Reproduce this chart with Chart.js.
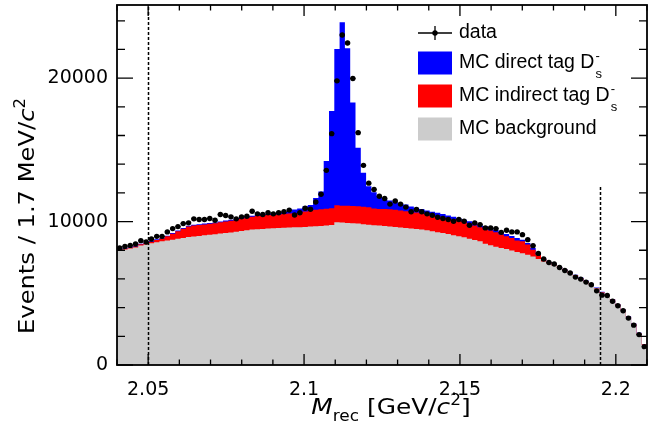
<!DOCTYPE html>
<html>
<head>
<meta charset="utf-8">
<script src="https://cdn.jsdelivr.net/npm/chart.js@4.4.1/dist/chart.umd.min.js"></script>
<style>
html, body { margin: 0; padding: 0; background: #fff; }
#wrap { width: 660px; height: 429px; }
</style>
</head>
<body>
<div id="wrap"><canvas id="c"></canvas></div>
<script>
'use strict';
// M_rec spectrum: data vs stacked MC (direct / indirect tag Ds, background)

// ---------- dane ----------
const X_MIN = 2.04, X_MAX = 2.21, BIN = 0.0017;   // 100 bins of 1.7 MeV
const Y_MAX = 25100;
const dataCounts = [
  8160, 8270, 8340, 8440, 8670, 8580, 8790, 8970, 8970, 9280,
  9510, 9650, 9860, 9910, 10190, 10140, 10140, 10210, 10090, 10490,
  10420, 10330, 10190, 10330, 10370, 10720, 10540, 10490, 10610, 10540,
  10610, 10680, 10800, 10460, 10610, 10930, 10860, 11360, 11910, 13570,
  16130, 19810, 23010, 22450, 19980, 16200, 13920, 12680, 12240, 11770,
  11610, 11220, 11430, 11220, 11010, 10680, 10840, 10680, 10540, 10440,
  10300, 10210, 10140, 10020, 10140, 10020, 9740, 9910, 9790, 9560,
  9560, 9510, 9250, 9390, 9280, 9280, 9090, 8740, 8320, 7780,
  7390, 7150, 7040, 6800, 6590, 6410, 6130, 5990, 5780, 5590,
  5170, 4870, 4850, 4450, 4130, 3780, 3270, 2780, 2120, 1280
];
const mcBackground = [
  8020, 8060, 8120, 8200, 8330, 8400, 8480, 8560, 8620, 8680,
  8740, 8800, 8860, 8920, 8960, 9000, 9040, 9080, 9110, 9160,
  9200, 9240, 9290, 9340, 9400, 9440, 9460, 9480, 9510, 9540,
  9560, 9570, 9590, 9600, 9610, 9620, 9650, 9670, 9700, 9720,
  9760, 9950, 9930, 9900, 9880, 9860, 9820, 9780, 9740, 9720,
  9700, 9660, 9620, 9580, 9560, 9520, 9480, 9440, 9390, 9330,
  9260, 9200, 9140, 9040, 8970, 8900, 8810, 8720, 8620, 8450,
  8350, 8250, 8150, 8080, 7990, 7880, 7800, 7690, 7560, 7390,
  7220, 7080, 6930, 6760, 6600, 6420, 6220, 6020, 5820, 5590,
  5330, 5040, 4820, 4520, 4180, 3820, 3340, 2840, 2200, 1420
];
const mcIndirect = [
  40, 40, 50, 60, 90, 100, 120, 160, 200, 300,
  410, 520, 640, 730, 760, 760, 760, 760, 770, 790,
  800, 810, 830, 860, 870, 890, 920, 940, 940, 940,
  940, 960, 970, 1000, 1030, 1080, 1130, 1150, 1160, 1180,
  1170, 1180, 1180, 1200, 1200, 1200, 1220, 1220, 1180, 1160,
  1170, 1200, 1200, 1190, 1160, 1160, 1160, 1140, 1110, 1100,
  1110, 1100, 1090, 1110, 1110, 1080, 1040, 1000, 980, 1020,
  1030, 1000, 950, 890, 860, 800, 820, 710, 480, 300,
  170, 70, 60, 50, 50, 50, 50, 50, 40, 40,
  40, 40, 40, 40, 30, 30, 30, 30, 20, 20
];
const mcDirect = [
  40, 40, 40, 40, 40, 40, 40, 40, 40, 40,
  60, 60, 60, 60, 60, 60, 60, 60, 60, 60,
  80, 80, 80, 80, 80, 80, 80, 80, 100, 100,
  100, 130, 160, 240, 270, 370, 370, 830, 1240, 3320,
  6780, 10900, 12780, 10980, 7220, 4090, 2370, 1470, 1130, 890,
  670, 610, 530, 490, 470, 370, 320, 290, 270, 250,
  240, 220, 200, 180, 150, 150, 170, 160, 150, 200,
  160, 170, 160, 160, 150, 170, 120, 100, 110, 70,
  40, 25, 25, 25, 25, 25, 25, 25, 25, 25,
  25, 25, 25, 25, 25, 25, 25, 25, 25, 25
];
const xMajor = [2.05, 2.1, 2.15, 2.2];
const xLabels = ['2.05', '2.1', '2.15', '2.2'];
const yMajor = [0, 10000, 20000];
const yLabels = ['0', '10000', '20000'];
const cutLines = [{ x: 2.05, top: Y_MAX }, { x: 2.195, top: 12500 }];

const FONT = '"DejaVu Sans", "Liberation Sans", Arial, sans-serif';
const LFONT = '"Liberation Sans", Arial, Helvetica, sans-serif';
const BLUE = '#0000ff', RED = '#ff0000', GREY = '#cccccc';

// ---------- pomocnicze ----------
const binLo = i => X_MIN + BIN * i;
const binMid = i => X_MIN + BIN * (i + 0.5);
// histogram as stepped line: left edge of each bin + closing right edge
function histPoints(vals) {
  const pts = vals.map((v, i) => ({ x: binLo(i), y: v }));
  pts.push({ x: binLo(vals.length), y: vals[vals.length - 1] });
  return pts;
}
function histDs(label, vals, color) {
  return {
    label, data: histPoints(vals), stack: 'mc', order: 1,
    stepped: 'before', fill: 'origin', backgroundColor: color,
    borderColor: 'rgba(0,0,0,0)', borderWidth: 0, pointRadius: 0,
  };
}

// ---------- rysowanie dodatków ----------
function drawErrors(chart) {
  const { ctx, scales: { x, y } } = chart;
  ctx.save();
  ctx.strokeStyle = '#000'; ctx.lineWidth = 1;
  ctx.beginPath();
  dataCounts.forEach((n, i) => {
    const cx = x.getPixelForValue(binMid(i)), cy = y.getPixelForValue(n);
    const e = Math.sqrt(n);
    ctx.moveTo(cx, y.getPixelForValue(n - e)); ctx.lineTo(cx, y.getPixelForValue(n + e));
    ctx.moveTo(x.getPixelForValue(binLo(i)), cy); ctx.lineTo(x.getPixelForValue(binLo(i + 1)), cy);
  });
  ctx.stroke();
  // linie cięć
  ctx.setLineDash([3, 2]); ctx.lineWidth = 1.5;
  cutLines.forEach(c => {
    const px = Math.round(x.getPixelForValue(c.x)) + 0.5;
    ctx.beginPath();
    ctx.moveTo(px, y.getPixelForValue(0)); ctx.lineTo(px, y.getPixelForValue(c.top));
    ctx.stroke();
  });
  ctx.restore();
}

function drawFrame(chart) {
  const { ctx, chartArea: a, scales: { x, y } } = chart;
  ctx.save();
  ctx.strokeStyle = '#000'; ctx.lineWidth = 1.8;
  ctx.strokeRect(a.left, a.top, a.right - a.left, a.bottom - a.top);
  ctx.lineWidth = 1.3;
  ctx.beginPath();
  for (let k = 0; k <= 17; k++) {
    const v = X_MIN + 0.01 * k;
    const major = xMajor.some(m => Math.abs(m - v) < 1e-6);
    const px = x.getPixelForValue(v), len = major ? 11 : 5.5;
    ctx.moveTo(px, a.bottom); ctx.lineTo(px, a.bottom - len);
    ctx.moveTo(px, a.top); ctx.lineTo(px, a.top + len);
  }
  for (let v = 0; v <= Y_MAX; v += 2000) {
    const major = v % 10000 === 0;
    const py = y.getPixelForValue(v), len = major ? 16 : 8;
    ctx.moveTo(a.left, py); ctx.lineTo(a.left + len, py);
    ctx.moveTo(a.right, py); ctx.lineTo(a.right - len, py);
  }
  ctx.stroke();
  ctx.restore();
}

// tekst z indeksami: części [tekst, styl] — styl: '', 'i' (kursywa), 'sub', 'sup'
function richText(ctx, parts, x0, y0, size, family, align) {
  const fontOf = st => (st === 'i' ? 'italic ' : '') +
    (st === 'sub' || st === 'sup' ? Math.round(size * 0.7) : size) + 'px ' + family;
  let w = 0;
  parts.forEach(([t, st]) => { ctx.font = fontOf(st); w += ctx.measureText(t).width; });
  let cx = align === 'center' ? x0 - w / 2 : x0;
  parts.forEach(([t, st]) => {
    ctx.font = fontOf(st);
    const dy = st === 'sub' ? size * 0.3 : st === 'sup' ? -size * 0.4 : 0;
    ctx.fillText(t, cx, y0 + dy);
    cx += ctx.measureText(t).width;
  });
  return cx;
}

function drawTitles(chart) {
  const { ctx } = chart;
  ctx.save();
  ctx.fillStyle = '#000'; ctx.textBaseline = 'alphabetic';
  ctx.save();
  ctx.translate(391, 414); ctx.scale(1.13, 1);
  richText(ctx, [['M', 'i'], ['rec', 'sub'], [' [GeV/', ''], ['c', 'i'], ['2', 'sup'], [']', '']],
    0, 0, 22, FONT, 'center');
  ctx.restore();
  ctx.translate(34, 216); ctx.rotate(-Math.PI / 2); ctx.scale(1.1, 1);
  richText(ctx, [['Events / 1.7 MeV/', ''], ['c', 'i'], ['2', 'sup']], 0, 0, 22, FONT, 'center');
  ctx.restore();
}

const legendItems = [
  { kind: 'data', text: 'data', y: 33 },
  { kind: 'box', color: BLUE, text: 'MC direct tag D', ds: true, y: 63 },
  { kind: 'box', color: RED, text: 'MC indirect tag D', ds: true, y: 96 },
  { kind: 'box', color: GREY, text: 'MC background', ds: false, y: 129 },
];
function drawLegend(chart) {
  const { ctx } = chart;
  const bx = 418, bw = 34, bh = 23, tx = 459;
  ctx.save();
  ctx.textBaseline = 'middle'; ctx.fillStyle = '#000';
  legendItems.forEach(it => {
    if (it.kind === 'data') {
      ctx.strokeStyle = '#000'; ctx.lineWidth = 1.3;
      ctx.beginPath();
      ctx.moveTo(bx, it.y); ctx.lineTo(bx + bw, it.y);
      ctx.moveTo(bx + bw / 2, it.y - 7); ctx.lineTo(bx + bw / 2, it.y + 7);
      ctx.stroke();
      ctx.beginPath(); ctx.arc(bx + bw / 2, it.y, 2.7, 0, Math.PI * 2); ctx.fill();
    } else {
      ctx.fillStyle = it.color; ctx.fillRect(bx, it.y - bh / 2, bw, bh);
      ctx.fillStyle = '#000';
    }
    ctx.font = '19.5px ' + LFONT;
    ctx.fillText(it.text, tx, it.y);
    if (it.ds) {
      const ex = tx + ctx.measureText(it.text).width + 1;
      ctx.font = '13px ' + LFONT;
      ctx.fillText('-', ex, it.y - 7);
      ctx.fillText('s', ex, it.y + 11);
    }
  });
  ctx.restore();
}

const decor = {
  id: 'decor',
  afterDatasetsDraw(chart) { drawErrors(chart); },
  afterDraw(chart) { drawFrame(chart); drawLegend(chart); drawTitles(chart); },
};

// ---------- wykres ----------
new Chart(document.getElementById('c'), {
  type: 'line',
  data: {
    datasets: [
      histDs('MC background', mcBackground, GREY),
      histDs('MC indirect tag', mcIndirect, RED),
      histDs('MC direct tag', mcDirect, BLUE),
      { label: 'data', data: dataCounts.map((v, i) => ({ x: binMid(i), y: v })),
        stack: 'data', order: 0, showLine: false, pointRadius: 2.7,
        pointBackgroundColor: '#000', pointBorderWidth: 0, borderColor: '#000' },
    ],
  },
  options: {
    responsive: true, maintainAspectRatio: false, animation: false,
    layout: { padding: { top: 5, right: 13, left: 0, bottom: 0 } },
    plugins: { legend: { display: false }, tooltip: { enabled: false } },
    scales: {
      x: {
        type: 'linear', min: X_MIN, max: X_MAX,
        grid: { display: false }, border: { display: false },
        afterBuildTicks: s => { s.ticks = xMajor.map(v => ({ value: v })); },
        afterFit: s => { s.height = 64; s.paddingLeft = 0; s.paddingRight = 0; },
        ticks: { autoSkip: false, maxRotation: 0, padding: 6, color: '#000',
          font: { family: FONT, size: 19 }, callback: (v, i) => xLabels[i] },
      },
      y: {
        type: 'linear', stacked: true, min: 0, max: Y_MAX,
        grid: { display: false }, border: { display: false },
        afterBuildTicks: s => { s.ticks = yMajor.map(v => ({ value: v })); },
        afterFit: s => { s.width = 117; s.paddingTop = 0; s.paddingBottom = 0; },
        ticks: { padding: 1, color: '#000',
          font: { family: FONT, size: 19 }, callback: (v, i) => yLabels[i] },
      },
    },
  },
  plugins: [decor],
});
</script>
</body>
</html>
